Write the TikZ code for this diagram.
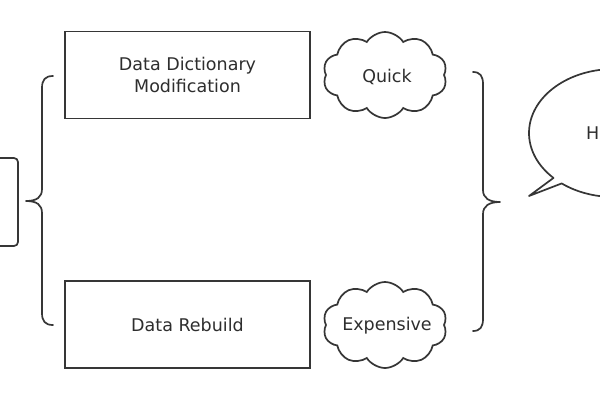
\documentclass[tikz,border=0pt]{standalone}
\usepackage{fontspec}
\setmainfont{DejaVu Sans}
\usetikzlibrary{shapes.symbols,calc}
\definecolor{ink}{HTML}{363636}
\definecolor{txt}{HTML}{2E2E2E}
\tikzset{
  stroke/.style={draw=ink, line width=1.7pt},
  box/.style={stroke, rectangle, minimum width=245pt, minimum height=87pt, inner sep=0pt,
    align=center, font=\fontsize{17.5}{22}\selectfont, text=txt},
  puff/.style={stroke, cloud, cloud puffs=10, cloud puff arc=115, aspect=1.45,
    minimum width=124pt, minimum height=86pt, inner sep=0pt},
  bracepath/.style={draw=ink, line width=1.7pt, line cap=round, line join=round},
  lbl/.style={font=\fontsize{17.5}{22}\selectfont, text=txt, inner sep=0pt}
}
\begin{document}
\begin{tikzpicture}[x=1pt,y=-1pt]
\clip (0,0) rectangle (600,400);
\fill[white] (0,0) rectangle (600,400);
% partial box on the left
\node[stroke, rounded corners=4pt, minimum width=80pt, minimum height=88pt, inner sep=0pt] (src) at (-22,202) {};
% left brace
\draw[bracepath] (53,76) .. controls (45,76) and (42,80) .. (42,88) -- (42,189)
  .. controls (42,197) and (37,201) .. (26,201)
  .. controls (37,201) and (42,205) .. (42,213) -- (42,313)
  .. controls (42,321) and (45,325) .. (53,325);
% boxes
\node[box] (ddm) at (187.5,75) {Data Dictionary\\Modification};
\node[box] (dr) at (187.5,324.5) {Data Rebuild};
% clouds
\node[puff] (quick) at (385,75) {};
\node[lbl] (quicklbl) at ($(quick.center)+(2,2)$) {Quick};
\node[puff] (exp) at (385,325) {};
\node[lbl] (explbl) at ($(exp.center)+(2,1)$) {Expensive};
% right brace
\draw[bracepath] (473,72) .. controls (480,72) and (483,76) .. (483,84) -- (483,190)
  .. controls (483,198) and (489,202) .. (500,202)
  .. controls (489,202) and (483,206) .. (483,214) -- (483,319)
  .. controls (483,327) and (480,331) .. (473,331);
% speech bubble
\coordinate (bc) at (614,133);
\coordinate (tip) at (529,196);
\draw[bracepath, fill=white] ($(bc)+(135.4:85 and 64)$) arc[start angle=135.4, end angle=488, x radius=85, y radius=64] -- (tip) -- cycle;
\node[lbl, anchor=west] (h) at (586,133) {H};
\end{tikzpicture}
\end{document}
